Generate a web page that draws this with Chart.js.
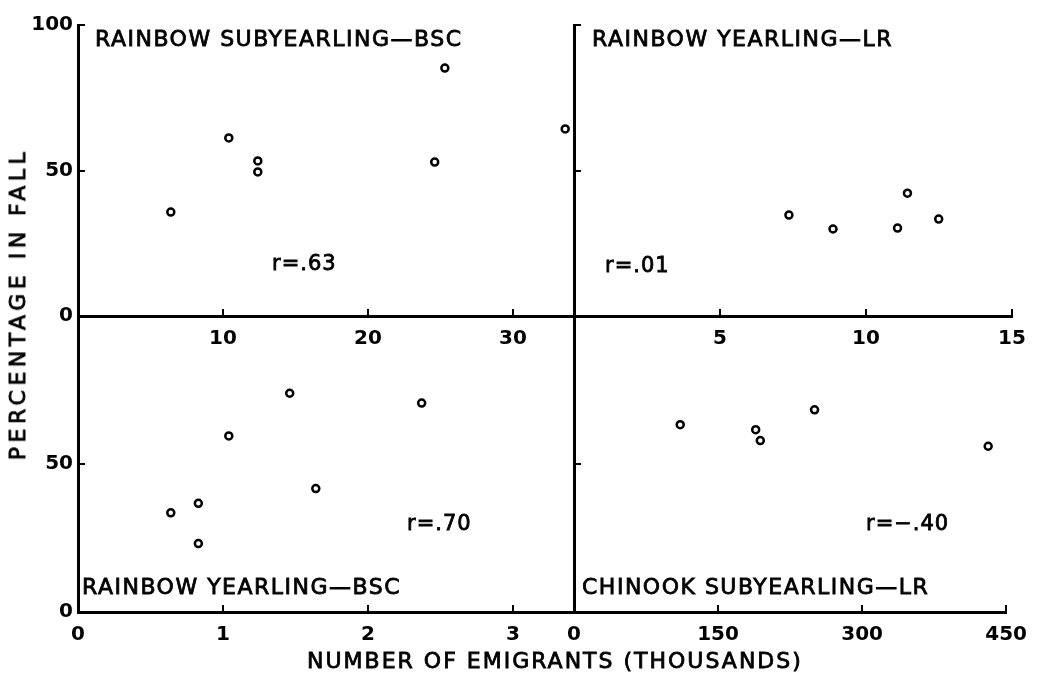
<!DOCTYPE html>
<html>
<head>
<meta charset="utf-8">
<script src="https://cdn.jsdelivr.net/npm/chart.js@4.4.0/dist/chart.umd.min.js"></script>
<style>
  html, body { margin: 0; padding: 0; background: #fff; }
  #wrap { position: relative; width: 1045px; height: 678px; overflow: hidden; }
  #wrap canvas { position: absolute; left: 0; top: 0; }
  .lbl { position: absolute; font-family: "DejaVu Sans", sans-serif; font-size: 22px; line-height: 22px;
         color: #000; white-space: nowrap; letter-spacing: 1.5px; -webkit-text-stroke: 0.8px #000; }
  .r { letter-spacing: 1px; font-size: 21px; }
</style>
</head>
<body>
<div id="wrap">
  <canvas id="tl" width="1045" height="678"></canvas>
  <canvas id="tr" width="1045" height="678"></canvas>
  <canvas id="bl" width="1045" height="678"></canvas>
  <canvas id="br" width="1045" height="678"></canvas>

  <div class="lbl" style="left:95px; top:28px;">RAINBOW SUBYEARLING—BSC</div>
  <div class="lbl" style="left:592px; top:28px;">RAINBOW YEARLING—LR</div>
  <div class="lbl" style="left:82px; top:576px;">RAINBOW YEARLING—BSC</div>
  <div class="lbl" style="left:582px; top:576px;">CHINOOK SUBYEARLING—LR</div>

  <div class="lbl r" style="left:272px; top:252px;">r=.63</div>
  <div class="lbl r" style="left:605px; top:254px;">r=.01</div>
  <div class="lbl r" style="left:407px; top:512px;">r=.70</div>
  <div class="lbl r" style="left:866px; top:512px;">r=−.40</div>

  <div class="lbl" style="left:307px; top:650px; letter-spacing:2px;">NUMBER OF EMIGRANTS (THOUSANDS)</div>
  <div class="lbl" style="left:18px; top:304px; letter-spacing:4.5px; transform: translate(-50%, -50%) rotate(-90deg);">PERCENTAGE IN FALL</div>
</div>

<script>
// Rainbow subyearling - BSC (x in thousands, y percentage in fall)
const rsbX = [6.4, 10.4, 12.4, 12.4, 24.6, 25.3, 33.6];
const rsbY = [35.7, 61.2, 53.3, 49.5, 52.9, 85.2, 64.3];

// Rainbow yearling - LR
const rylX = [7.36, 8.87, 11.08, 11.42, 12.49];
const rylY = [34.7, 29.9, 30.2, 42.2, 33.3];

// Rainbow yearling - BSC
const rybX = [0.64, 0.83, 0.83, 1.04, 1.46, 1.64, 2.37];
const rybY = [33.5, 36.7, 23.1, 59.5, 73.9, 41.7, 70.6];

// Chinook subyearling - LR
const cslX = [110.6, 189.2, 194.0, 250.5, 431.3];
const cslY = [63.3, 61.6, 57.9, 68.3, 56.0];

// tick labels
const tlXTicks = [10, 20, 30];
const trXTicks = [5, 10, 15];
const blXTicks = [0, 1, 2, 3];
const brXTicks = [0, 150, 300, 450];
const tlYTicks = [0, 50, 100];
const blYTicks = [0, 50];
const rightYTicks = [50, 100];

Chart.defaults.font.family = '"DejaVu Sans", sans-serif';
Chart.defaults.font.size = 20;
Chart.defaults.font.weight = 'bold';
Chart.defaults.color = '#000';

const W = 1045, H = 678;
const xMid = 574, yMid = 316, yTop = 25, yBot = 612, xEnd = 1012, xLeft = 78;

function pts(xs, ys) {
    return xs.map((x, i) => ({ x: x, y: ys[i] }));
}

function makeScale(min, max, ticks, opts) {
    return {
        type: 'linear',
        min: min,
        max: max,
        afterBuildTicks: s => { s.ticks = ticks.map(v => ({ value: v })); },
        afterFit: opts.fit,
        border: { display: true, color: '#000', width: 3 },
        grid: { display: true, drawOnChartArea: false, drawTicks: true, tickLength: -7, color: '#000', lineWidth: 2 },
        ticks: {
            display: opts.labels,
            padding: opts.pad,
            maxRotation: 0,
            autoSkip: false,
            callback: v => String(v)
        }
    };
}

function panel(id, xs, ys, padding, xScale, yScale) {
    return new Chart(document.getElementById(id), {
        type: 'scatter',
        data: {
            datasets: [{
                data: pts(xs, ys),
                pointRadius: 3.5,
                pointBorderWidth: 2.5,
                pointBorderColor: '#000',
                pointBackgroundColor: '#fff'
            }]
        },
        options: {
            responsive: false,
            animation: false,
            layout: { padding: padding },
            plugins: { legend: { display: false }, tooltip: { enabled: false } },
            scales: { x: xScale, y: yScale }
        }
    });
}

// top left
panel('tl', rsbX, rsbY,
    { top: yTop, left: 0, right: W - xMid, bottom: H - yMid - 44 },
    makeScale(0, (xMid - xLeft) / 14.5, tlXTicks, { labels: true, pad: 18, fit: s => { s.height = 44; } }),
    makeScale(0, 100, tlYTicks, { labels: true, pad: 12, fit: s => { s.width = xLeft; } }));

// top right
panel('tr', rylX, rylY,
    { top: yTop, left: xMid, right: W - xEnd, bottom: H - yMid - 44 },
    makeScale(0, 15, trXTicks, { labels: true, pad: 18, fit: s => { s.height = 44; } }),
    makeScale(0, 100, rightYTicks, { labels: false, pad: 0, fit: s => { s.width = 0; } }));

// bottom left
panel('bl', rybX, rybY,
    { top: yMid, left: 0, right: W - xMid, bottom: H - yBot - 40 },
    makeScale(0, (xMid - xLeft) / 145, blXTicks, { labels: true, pad: 18, fit: s => { s.height = 40; } }),
    makeScale(0, 100, blYTicks, { labels: true, pad: 12, fit: s => { s.width = xLeft; } }));

// bottom right
panel('br', cslX, cslY,
    { top: yMid, left: xMid, right: W - xEnd, bottom: H - yBot - 40 },
    makeScale(0, 450, brXTicks, { labels: true, pad: 18, fit: s => { s.height = 40; } }),
    makeScale(0, 100, rightYTicks.slice(0, 1), { labels: false, pad: 0, fit: s => { s.width = 0; } }));
</script>
</body>
</html>
